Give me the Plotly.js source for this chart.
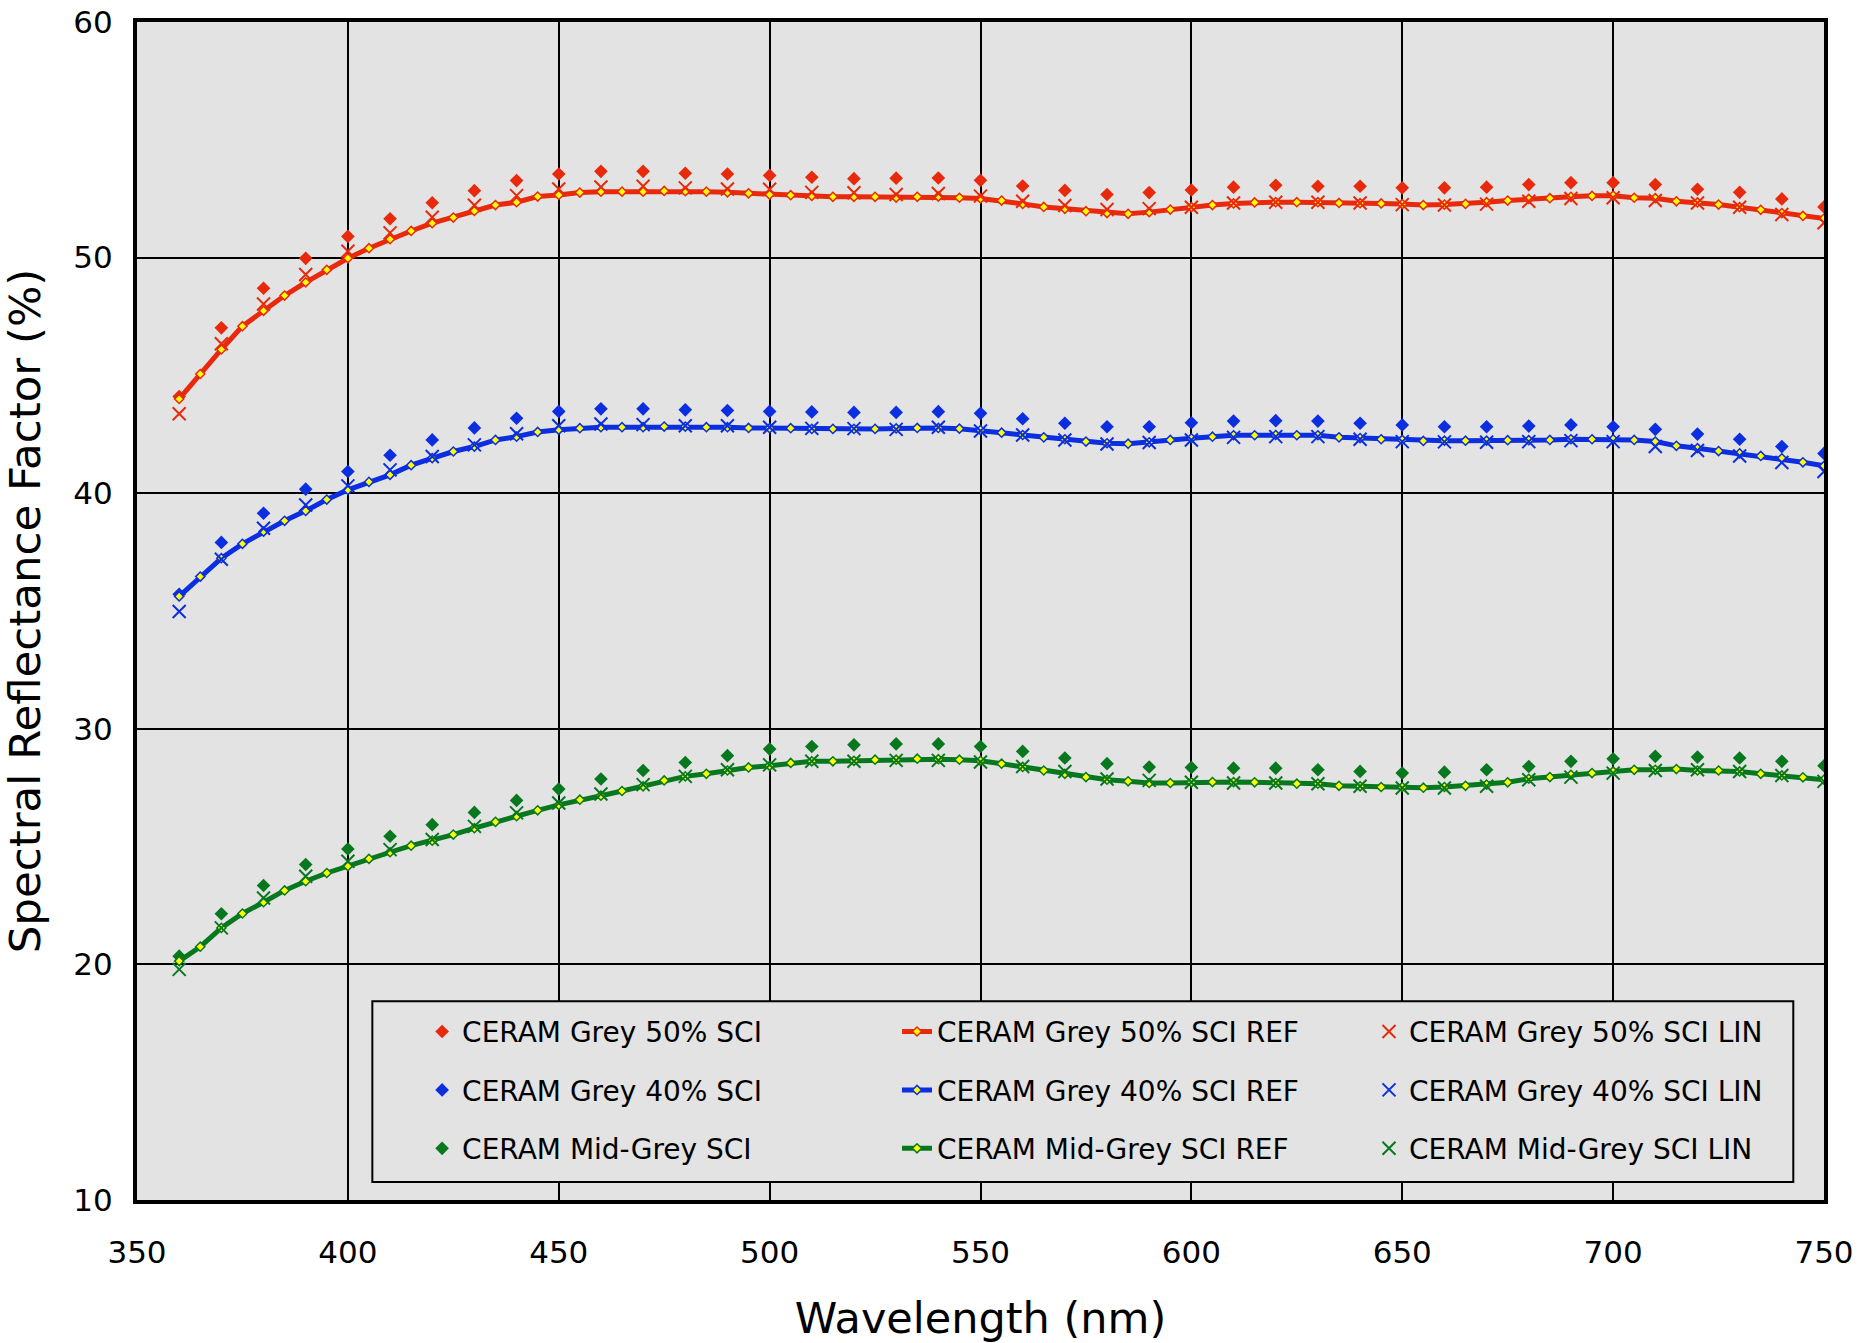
<!DOCTYPE html>
<html>
<head>
<meta charset="utf-8">
<script src="https://cdn.plot.ly/plotly-3.0.1.min.js"></script>
<style>html,body{margin:0;padding:0;background:#fff;}#chart{width:1876px;height:1343px;}</style>
</head>
<body>
<div id="chart"></div>
<script>
// Wavelengths (nm)
const wl5 = [360,365,370,375,380,385,390,395,400,405,410,415,420,425,430,435,440,445,450,455,460,465,470,475,480,485,490,495,500,505,510,515,520,525,530,535,540,545,550,555,560,565,570,575,580,585,590,595,600,605,610,615,620,625,630,635,640,645,650,655,660,665,670,675,680,685,690,695,700,705,710,715,720,725,730,735,740,745,750];
const wl10 = [360,370,380,390,400,410,420,430,440,450,460,470,480,490,500,510,520,530,540,550,560,570,580,590,600,610,620,630,640,650,660,670,680,690,700,710,720,730,740,750];

// CERAM Grey 50%
const grey50Ref = [44.0,45.06,46.1,47.09,47.74,48.39,48.95,49.48,49.97,50.4,50.78,51.13,51.46,51.7,51.98,52.23,52.35,52.59,52.66,52.76,52.8,52.8,52.8,52.83,52.82,52.8,52.77,52.73,52.67,52.65,52.62,52.58,52.58,52.58,52.55,52.58,52.59,52.54,52.51,52.42,52.28,52.15,52.07,51.97,51.89,51.86,51.93,52.04,52.14,52.23,52.3,52.34,52.35,52.35,52.35,52.32,52.31,52.3,52.27,52.23,52.25,52.28,52.35,52.42,52.49,52.52,52.58,52.62,52.63,52.54,52.52,52.39,52.34,52.25,52.14,52.03,51.89,51.77,51.66];
const grey50Sci = [44.1,47.02,48.7,49.97,50.9,51.65,52.33,52.84,53.27,53.55,53.66,53.66,53.58,53.55,53.49,53.41,53.35,53.37,53.38,53.28,53.04,52.85,52.68,52.76,52.87,52.99,53.07,53.03,53.03,52.96,52.96,52.99,53.1,53.18,53.18,53.1,52.9,52.77,52.49,52.15];
const grey50Lin = [43.37,46.34,48.03,49.28,50.27,51.05,51.71,52.22,52.63,52.91,53.0,53.03,52.96,52.91,52.9,52.77,52.75,52.68,52.72,52.61,52.39,52.21,52.04,52.08,52.14,52.32,52.35,52.35,52.32,52.25,52.23,52.27,52.39,52.51,52.54,52.42,52.32,52.14,51.83,51.48];

// CERAM Grey 40%
const grey40Ref = [35.62,36.46,37.24,37.85,38.37,38.83,39.25,39.73,40.14,40.48,40.78,41.19,41.49,41.77,41.98,42.26,42.4,42.6,42.69,42.76,42.8,42.8,42.8,42.83,42.83,42.8,42.8,42.77,42.76,42.76,42.73,42.73,42.73,42.73,42.75,42.77,42.77,42.74,42.68,42.57,42.47,42.37,42.29,42.19,42.12,42.1,42.16,42.26,42.33,42.4,42.46,42.46,42.47,42.46,42.46,42.37,42.34,42.29,42.26,42.22,42.23,42.23,42.23,42.25,42.25,42.26,42.29,42.29,42.29,42.26,42.19,42.01,41.91,41.79,41.69,41.58,41.48,41.31,41.16];
const grey40Sci = [35.71,37.91,39.15,40.17,40.92,41.61,42.26,42.77,43.18,43.47,43.58,43.58,43.54,43.51,43.47,43.45,43.43,43.43,43.46,43.39,43.16,42.97,42.82,42.82,42.99,43.06,43.08,43.06,42.97,42.9,42.82,42.82,42.85,42.9,42.82,42.71,42.51,42.29,41.98,41.69];
const grey40Lin = [34.98,37.2,38.51,39.5,40.31,40.99,41.56,42.05,42.52,42.86,42.94,42.91,42.86,42.86,42.8,42.75,42.74,42.71,42.8,42.64,42.47,42.26,42.09,42.15,42.26,42.37,42.4,42.4,42.29,42.19,42.18,42.16,42.19,42.23,42.19,41.98,41.81,41.58,41.3,40.92];

// CERAM Mid-Grey
const midRef = [20.14,20.75,21.55,22.16,22.64,23.14,23.53,23.88,24.17,24.48,24.76,25.04,25.25,25.51,25.78,26.05,26.29,26.54,26.77,26.99,27.16,27.36,27.56,27.81,27.98,28.09,28.23,28.36,28.43,28.55,28.62,28.62,28.64,28.69,28.69,28.73,28.71,28.69,28.64,28.52,28.38,28.23,28.09,27.95,27.84,27.77,27.7,27.7,27.73,27.74,27.74,27.73,27.7,27.67,27.67,27.58,27.56,27.53,27.53,27.5,27.53,27.58,27.63,27.73,27.88,27.95,28.05,28.12,28.19,28.26,28.26,28.29,28.23,28.23,28.19,28.09,28.02,27.94,27.84];
const midSci = [20.35,22.15,23.35,24.24,24.9,25.44,25.93,26.45,26.96,27.44,27.87,28.23,28.57,28.86,29.14,29.25,29.32,29.36,29.36,29.25,29.04,28.76,28.52,28.38,28.36,28.33,28.33,28.26,28.19,28.12,28.16,28.26,28.4,28.62,28.73,28.83,28.8,28.76,28.62,28.43];
const midLin = [19.79,21.55,22.82,23.74,24.38,24.87,25.3,25.86,26.43,26.85,27.23,27.63,27.98,28.26,28.47,28.62,28.62,28.66,28.66,28.59,28.4,28.19,27.87,27.81,27.73,27.7,27.7,27.67,27.56,27.49,27.49,27.56,27.84,27.95,28.12,28.23,28.26,28.19,28.02,27.77];

const seriesNames = ['CERAM Grey 50%', 'CERAM Grey 40%', 'CERAM Mid-Grey'];
const seriesColors = ['#E8290B', '#0B2EE0', '#08781E'];
const refData = [grey50Ref, grey40Ref, midRef];
const sciData = [grey50Sci, grey40Sci, midSci];
const linData = [grey50Lin, grey40Lin, midLin];

const FONT = 'DejaVu Sans, Verdana, sans-serif';
const traces = [];
for (let i = 0; i < 3; i++) {
  const c = seriesColors[i];
  traces.push({
    x: wl10, y: sciData[i], type: 'scatter', mode: 'markers',
    name: seriesNames[i] + ' SCI', legend: 'legend', legendgroup: 'sci' + i,
    marker: {symbol: 'diamond', size: 10.5, color: c, line: {width: 0}}
  });
}
for (let i = 0; i < 3; i++) {
  const c = seriesColors[i];
  traces.push({
    x: wl5, y: refData[i], type: 'scatter', mode: 'lines+markers',
    name: seriesNames[i] + ' SCI REF', legend: 'legend2', legendgroup: 'ref' + i,
    line: {color: c, width: 5},
    marker: {symbol: 'diamond', size: 7, color: '#FFFF00', line: {color: c, width: 1.5}}
  });
}
for (let i = 0; i < 3; i++) {
  const c = seriesColors[i];
  traces.push({
    x: wl10, y: linData[i], type: 'scatter', mode: 'markers',
    name: seriesNames[i] + ' SCI LIN', legend: 'legend3', legendgroup: 'lin' + i,
    marker: {symbol: 'x-thin', size: 13, color: c, line: {color: c, width: 2}}
  });
}

const legendBase = {
  orientation: 'v', yanchor: 'top', xanchor: 'left', y: 0.164,
  bgcolor: 'rgba(0,0,0,0)', borderwidth: 0, tracegroupgap: 19,
  traceorder: 'grouped',
  font: {family: FONT, size: 28, color: '#000'}
};

const layout = {
  width: 1876, height: 1343,
  margin: {l: 137, r: 52, t: 22, b: 143},
  paper_bgcolor: '#ffffff', plot_bgcolor: '#E3E3E3',
  font: {family: FONT, color: '#000'},
  showlegend: true,
  xaxis: {
    range: [350, 750], dtick: 50, tick0: 350,
    showgrid: true, gridcolor: '#000', gridwidth: 2,
    showline: true, linecolor: '#000', linewidth: 4, mirror: true,
    zeroline: false, ticks: '', ticklabelstandoff: 22,
    tickfont: {family: FONT, size: 31},
    title: {text: 'Wavelength (nm)', font: {family: FONT, size: 43}, standoff: 42}
  },
  yaxis: {
    range: [10, 60], dtick: 10, tick0: 10,
    showgrid: true, gridcolor: '#000', gridwidth: 2,
    showline: true, linecolor: '#000', linewidth: 4, mirror: true,
    zeroline: false, ticks: '', ticklabelstandoff: 14,
    tickfont: {family: FONT, size: 31},
    title: {text: 'Spectral Reflectance Factor (%)', font: {family: FONT, size: 43.5}, standoff: 22}
  },
  legend: Object.assign({}, legendBase, {x: 0.1690}),
  legend2: Object.assign({}, legendBase, {x: 0.4505}),
  legend3: Object.assign({}, legendBase, {x: 0.7303}),
  shapes: [{
    type: 'rect', xref: 'paper', yref: 'paper',
    x0: 0.1395, x1: 0.9818, y0: 0.0153, y1: 0.1687,
    fillcolor: '#E3E3E3', line: {color: '#000', width: 2}, layer: 'above'
  }]
};

Plotly.newPlot('chart', traces, layout, {staticPlot: true});
</script>
</body>
</html>
